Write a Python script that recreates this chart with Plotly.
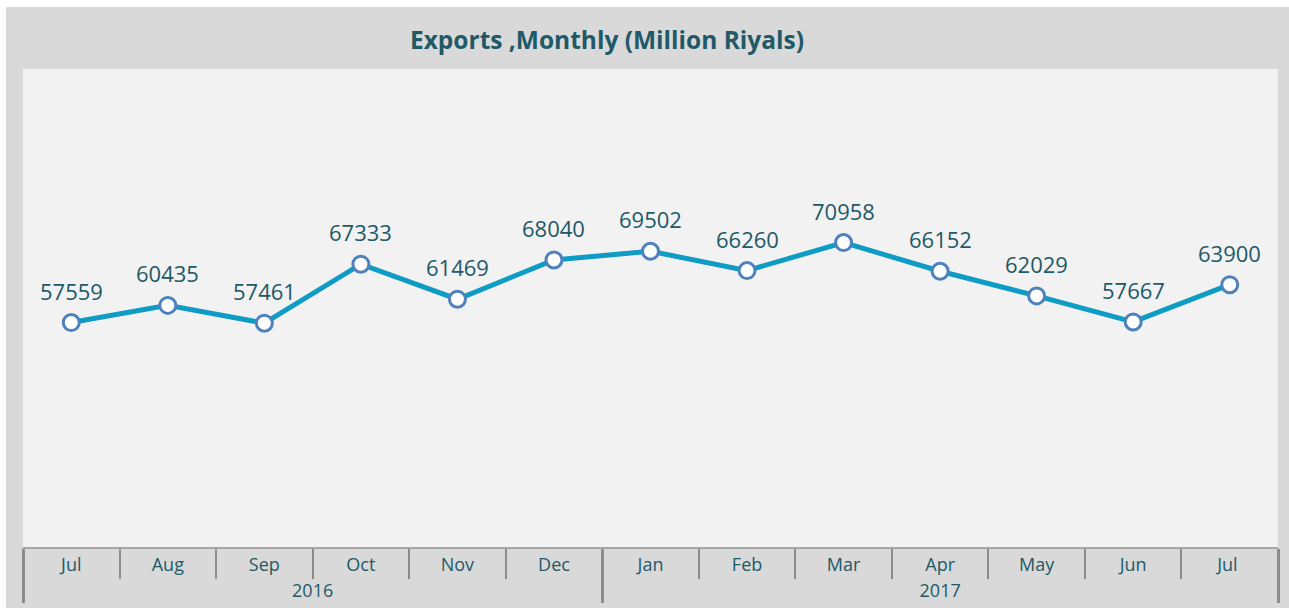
import plotly.graph_objects as go

years = ["2016"] * 6 + ["2017"] * 7
months = ["Jul", "Aug", "Sep", "Oct", "Nov", "Dec", "Jan", "Feb", "Mar", "Apr", "May", "Jun", "Jul"]
exports = [57559, 60435, 57461, 67333, 61469, 68040, 69502, 66260, 70958, 66152, 62029, 57667, 63900]

VW, VH = 1289, 608
OX, OY = 6, 7  # page offset of the figure
W, H = VW - OX, VH - OY
ML, MT = 23 - OX, 69 - OY
MR = VW - 1278
MB = VH - 547
TXT = "#215968"
FONT = "Open Sans"

# disambiguate repeated month names across years (trailing space is not rendered)
seen = set()
month_keys = []
for y, m in zip(years, months):
    k = m
    while k in seen:
        k += " "
    seen.add(k)
    month_keys.append(k)

fig = go.Figure()
fig.add_trace(go.Scatter(
    x=[years, month_keys], y=exports, mode="lines+markers",
    line=dict(color="#0e9bc4", width=5),
    marker=dict(size=16, color="white", line=dict(color="#4f81bd", width=3)),
    hoverinfo="skip", showlegend=False,
))
for i, v in enumerate(exports):
    fig.add_annotation(x=i, y=v, text=str(v), showarrow=False,
                       font=dict(family=FONT, size=22, color=TXT), yanchor="middle", yshift=32,
                       xref="x", yref="y")

pw = W - ML - MR
fig.update_layout(
    width=W, height=H,
    margin=dict(l=ML, r=MR, t=MT, b=MB, autoexpand=False),
    paper_bgcolor="#d9d9d9", plot_bgcolor="#f2f2f2",
    title=dict(text="<b>Exports ,Monthly (Million Riyals)</b>", x=(607 - 23) / pw, xanchor="center",
               xref="paper", y=1 - (40 - OY) / H, yanchor="middle",
               font=dict(family=FONT, size=24.5, color=TXT)),
    font=dict(family=FONT, color=TXT),
)
fig.update_xaxes(type="multicategory", range=[-0.5, len(exports) - 0.5], autorange=False,
                 automargin=False,
                 showgrid=False, showline=True, linecolor="#a6a6a6", linewidth=2,
                 ticks="outside", tickson="boundaries", ticklen=30, tickcolor="#8c8c8c", tickwidth=2,
                 dividercolor="#8c8c8c", dividerwidth=2.5,
                 tickfont=dict(family=FONT, size=18, color=TXT))
fig.update_yaxes(range=[20000, 100000], showgrid=False, zeroline=False, showticklabels=False, ticks="",
                 automargin=False)

fig.write_html("out.html",
               post_script="document.body.style.margin='%dpx 0 0 %dpx';document.body.style.overflow='hidden';" % (OY, OX))
